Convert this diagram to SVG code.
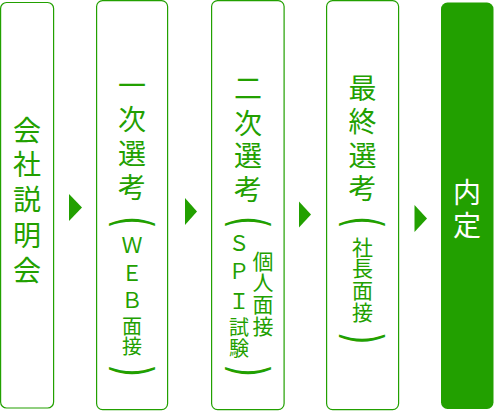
<svg xmlns="http://www.w3.org/2000/svg" width="495" height="411" viewBox="0 0 495 411">
<style>
.box{fill:#fff;stroke:#22a000;stroke-width:1.2}
.fin{fill:#22a000}
text{font-family:"Noto Sans CJK JP","Noto Sans CJK SC",sans-serif;text-anchor:middle;fill:#22a000}
.L{font-size:28px}
.S{font-size:21px}
.T{font-size:20px}
.P{font-family:"DejaVu Sans",sans-serif;font-size:32px}
.W{fill:#fff}
.arr{fill:#22a000}
</style>
<g id="connectors">
<polygon class="arr" points="69,194 82,207.5 69,221"/>
<polygon class="arr" points="185,198 197,211.5 185,225"/>
<polygon class="arr" points="299,201.5 311,214.5 299,227.5"/>
<polygon class="arr" points="414.5,205 427,218.5 414.5,232"/>
</g>
<g id="n1">
<rect class="box" x="0.6" y="2.5" width="53" height="405.5" rx="6"/>
<text class="L" x="27" y="140.6">会</text>
<text class="L" x="27" y="175.1">社</text>
<text class="L" x="27" y="210.1">説</text>
<text class="L" x="27" y="246.1">明</text>
<text class="L" x="27" y="280.6">会</text>
</g>
<g id="n2">
<rect class="box" x="96.6" y="0.6" width="71" height="409" rx="6"/>
<text class="L" x="132" y="95.6">一</text>
<text class="L" x="132" y="129.6">次</text>
<text class="L" x="132" y="163.6">選</text>
<text class="L" x="132" y="198.1">考</text>
<text class="P" transform="translate(132.5,221.5) scale(1.6,1) rotate(90)" x="0.8" y="10">(</text>
<text class="S" x="132" y="252.5">Ｗ</text>
<text class="S" x="132" y="280.5">Ｅ</text>
<text class="S" x="132" y="307.5">Ｂ</text>
<text class="T" x="132" y="333.6">面</text>
<text class="T" x="132" y="353.6">接</text>
<text class="P" transform="translate(132.5,370) scale(1.6,1) rotate(90)" x="0.8" y="10">)</text>
</g>
<g id="n3">
<rect class="box" x="211.6" y="0.6" width="72.5" height="409" rx="6"/>
<text class="L" x="248" y="98.6">二</text>
<text class="L" x="248" y="133.6">次</text>
<text class="L" x="248" y="166.1">選</text>
<text class="L" x="248" y="199.6">考</text>
<text class="P" transform="translate(248.5,221.5) scale(1.6,1) rotate(90)" x="0.8" y="10">(</text>
<text class="S" x="239" y="250.5">Ｓ</text>
<text class="S" x="239" y="279">Ｐ</text>
<text class="S" x="239" y="309">Ｉ</text>
<text class="T" x="239" y="335.1">試</text>
<text class="T" x="239" y="355.6">験</text>
<text class="S" x="263" y="269">個</text>
<text class="S" x="263" y="290">人</text>
<text class="S" x="263" y="312">面</text>
<text class="S" x="263" y="334">接</text>
<text class="P" transform="translate(248.5,370) scale(1.6,1) rotate(90)" x="0.8" y="10">)</text>
</g>
<g id="n4">
<rect class="box" x="326.6" y="0.6" width="72" height="409" rx="6"/>
<text class="L" x="362.5" y="99.1">最</text>
<text class="L" x="362.5" y="132.1">終</text>
<text class="L" x="362.5" y="165.6">選</text>
<text class="L" x="362.5" y="199.1">考</text>
<text class="P" transform="translate(362.5,221.5) scale(1.6,1) rotate(90)" x="0.8" y="10">(</text>
<text class="S" x="362.5" y="255">社</text>
<text class="S" x="362.5" y="276">長</text>
<text class="S" x="362.5" y="298">面</text>
<text class="S" x="362.5" y="320">接</text>
<text class="P" transform="translate(362.5,337.5) scale(1.6,1) rotate(90)" x="0.8" y="10">)</text>
</g>
<g id="n5">
<rect class="fin" x="441" y="2.5" width="52.5" height="406.5" rx="6.5"/>
<text class="L W" x="467" y="203.1">内</text>
<text class="L W" x="467" y="236.1">定</text>
</g>
</svg>
